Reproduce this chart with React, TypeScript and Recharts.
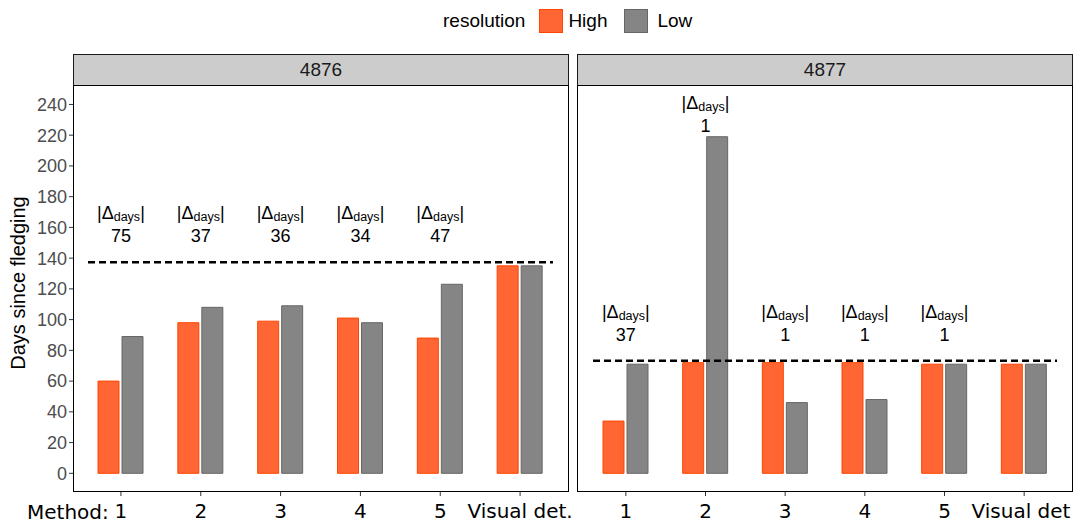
import React from "react";
import { ComposedChart, Bar, XAxis, YAxis, ReferenceLine, ReferenceDot } from "recharts";

const METHODS = ["1", "2", "3", "4", "5", "Visual det."];
const HIGH_4876 = [60, 98, 99, 101, 88, 135];
const LOW_4876 = [89, 108, 109, 98, 123, 135];
const HIGH_4877 = [34, 72, 72, 72, 71, 71];
const LOW_4877 = [71, 219, 46, 48, 71, 71];
const DELTA_4876 = [75, 37, 36, 34, 47];
const DELTA_4877 = [37, 1, 1, 1, 1];
const LABEL_Y_4876 = [162, 162, 162, 162, 162];
const LABEL_Y_4877 = [98, 234, 98, 98, 98];
const REF_4876 = 137.4;
const REF_4877 = 73.2;
const Y_TICKS = [0, 20, 40, 60, 80, 100, 120, 140, 160, 180, 200, 220, 240];

const HIGH_FILL = "#FF6633";
const HIGH_STROKE = "#FF4500";
const LOW_FILL = "#858585";
const LOW_STROKE = "#666666";
const SANS = "'Liberation Sans', Arial, sans-serif";
const TICK_FONT = "'DejaVu Sans', Verdana, sans-serif";

const toRows = (high: number[], low: number[]) =>
  METHODS.map((m, i) => ({ method: m, High: high[i], Low: low[i] }));

const dashedShape = (p: any) => (
  <line
    x1={p.x1 + 15}
    y1={p.y1}
    x2={p.x2 - 15}
    y2={p.y2}
    stroke="#000"
    strokeWidth={2.5}
    strokeDasharray="7 4"
  />
);

const deltaLabel = (value: number) => (p: any) => (
  <g>
    <text x={p.cx} y={p.cy - 11} textAnchor="middle" dominantBaseline="central" fontSize={18} fontFamily={SANS} fill="#000">
      |Δ
      <tspan fontSize={12.5} dy={4}>days</tspan>
      <tspan dy={-4}>|</tspan>
    </text>
    <text x={p.cx} y={p.cy + 12} textAnchor="middle" dominantBaseline="central" fontSize={18} fontFamily={SANS} fill="#000">
      {value}
    </text>
  </g>
);

interface PanelProps {
  high: number[];
  low: number[];
  deltas: number[];
  labelY: number[];
  refY: number;
  showY: boolean;
  width: number;
  rightMargin: number;
}

function Panel({ high, low, deltas, labelY, refY, showY, width, rightMargin }: PanelProps) {
  return (
    <ComposedChart
      width={width}
      height={437}
      data={toRows(high, low)}
      margin={{ top: 0, right: rightMargin, bottom: 0, left: 0 }}
      barSize={21}
      barGap={3}
    >
      <XAxis
        dataKey="method"
        interval={0}
        height={32}
        padding={{ left: 8, right: 8 }}
        axisLine={false}
        tickSize={5}
        tickMargin={8}
        tickLine={{ stroke: "#333" }}
        tick={{ fill: "#000", fontSize: 20, fontFamily: TICK_FONT }}
      />
      <YAxis
        hide={!showY}
        width={73}
        domain={[-11.5, 252]}
        ticks={Y_TICKS}
        allowDataOverflow
        axisLine={false}
        tickSize={4}
        tickMargin={2}
        tickLine={{ stroke: "#333" }}
        tick={{ fill: "#4D4D4D", fontSize: 18, fontFamily: SANS }}
      />
      <Bar dataKey="High" fill={HIGH_FILL} stroke={HIGH_STROKE} strokeWidth={1} isAnimationActive={false} />
      <Bar dataKey="Low" fill={LOW_FILL} stroke={LOW_STROKE} strokeWidth={1} isAnimationActive={false} />
      <ReferenceLine y={refY} shape={dashedShape} />
      {deltas.map((d, i) => (
        <ReferenceDot key={i} x={METHODS[i]} y={labelY[i]} r={0} shape={deltaLabel(d)} />
      ))}
    </ComposedChart>
  );
}

const stripStyle: React.CSSProperties = {
  position: "absolute",
  top: 54,
  height: 32,
  boxSizing: "border-box",
  background: "#CCCCCC",
  border: "1px solid #1A1A1A",
  fontFamily: SANS,
  fontSize: 19,
  color: "#1A1A1A",
  display: "flex",
  alignItems: "center",
  justifyContent: "center",
};

const borderStyle: React.CSSProperties = {
  position: "absolute",
  top: 85,
  height: 407,
  boxSizing: "border-box",
  border: "1.5px solid #000",
  pointerEvents: "none",
};

export default function App() {
  return (
    <div style={{ position: "absolute", left: 0, top: 0, width: 1078, height: 523, background: "#fff", overflow: "hidden" }}>
      {/* legend */}
      <div style={{ position: "absolute", top: 9, left: 443, height: 24, display: "flex", alignItems: "center", fontFamily: SANS, fontSize: 19, color: "#000" }}>
        <span>resolution</span>
        <span style={{ width: 22, height: 22, background: HIGH_FILL, border: `1px solid ${HIGH_STROKE}`, marginLeft: 14 }} />
        <span style={{ marginLeft: 5 }}>High</span>
        <span style={{ width: 22, height: 22, background: LOW_FILL, border: `1px solid ${LOW_STROKE}`, marginLeft: 17 }} />
        <span style={{ marginLeft: 9 }}>Low</span>
      </div>

      <div style={{ ...stripStyle, left: 73, width: 496 }}>4876</div>
      <div style={{ ...stripStyle, left: 577, width: 496 }}>4877</div>

      <div style={{ position: "absolute", left: 0, top: 86 }}>
        <Panel high={HIGH_4876} low={LOW_4876} deltas={DELTA_4876} labelY={LABEL_Y_4876} refY={REF_4876} showY width={578} rightMargin={10} />
      </div>
      <div style={{ position: "absolute", left: 578, top: 86 }}>
        <Panel high={HIGH_4877} low={LOW_4877} deltas={DELTA_4877} labelY={LABEL_Y_4877} refY={REF_4877} showY={false} width={494} rightMargin={0} />
      </div>

      <div style={{ ...borderStyle, left: 73, width: 496 }} />
      <div style={{ ...borderStyle, left: 577, width: 496 }} />

      {/* y-axis title */}
      <div
        style={{
          position: "absolute",
          left: 18,
          top: 283,
          transform: "translate(-50%, -50%) rotate(-90deg)",
          whiteSpace: "nowrap",
          fontFamily: SANS,
          fontSize: 20,
          color: "#000",
        }}
      >
        Days since fledging
      </div>

      <div style={{ position: "absolute", left: 27, top: 500, fontFamily: TICK_FONT, fontSize: 20, color: "#000" }}>Method:</div>
    </div>
  );
}
